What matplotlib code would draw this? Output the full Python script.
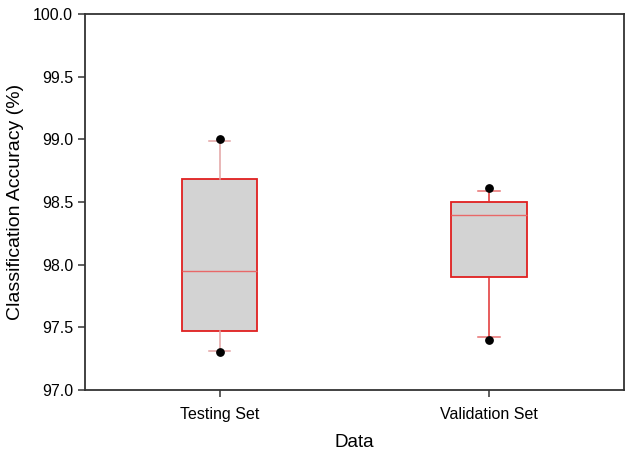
import matplotlib.pyplot as plt

plt.rcParams['font.family'] = ['Liberation Sans', 'DejaVu Sans']

# Box statistics
labels = ['Testing Set', 'Validation Set']
q1 = [97.47, 97.90]
median = [97.95, 98.40]
q3 = [98.68, 98.50]
whisker_low = [97.31, 97.42]
whisker_high = [98.99, 98.59]
# extreme points drawn as dots
point_low = [97.30, 97.40]
point_high = [99.00, 98.61]

whisker_colors = ['#e3a3a3', '#e03030']
cap_colors = ['#e3a3a3', '#e87070']

fig = plt.figure(figsize=(6.3, 4.55), dpi=100)
ax = fig.add_axes([0.135, 0.143, 0.855, 0.826])

positions = [1, 2]
for i, pos in enumerate(positions):
    stats = [{
        'label': labels[i],
        'q1': q1[i],
        'med': median[i],
        'q3': q3[i],
        'whislo': whisker_low[i],
        'whishi': whisker_high[i],
        'fliers': [],
    }]
    ax.bxp(stats, positions=[pos], widths=0.28, patch_artist=True,
           showfliers=False,
           boxprops=dict(facecolor='#d3d3d3', edgecolor='#e02020', linewidth=1.3),
           medianprops=dict(color='#e86868', linewidth=1.0),
           whiskerprops=dict(color=whisker_colors[i], linewidth=1.1),
           capprops=dict(color=cap_colors[i], linewidth=1.1),
           capwidths=0.08)

ax.scatter(positions, point_low, s=28, color='black', zorder=5)
ax.scatter(positions, point_high, s=28, color='black', zorder=5)

ax.set_xlim(0.5, 2.5)
ax.set_ylim(97.0, 100.0)
ax.set_yticks([97.0, 97.5, 98.0, 98.5, 99.0, 99.5, 100.0])
ax.set_yticklabels(['97.0', '97.5', '98.0', '98.5', '99.0', '99.5', '100.0'])
ax.set_xticks(positions)
ax.set_xticklabels(labels)

for s in ax.spines.values():
    s.set_color('#333333')
    s.set_linewidth(1.3)

ax.tick_params(axis='both', direction='out', length=5, width=1.1,
               colors='#333333', labelsize=11.5, labelcolor='black')
ax.tick_params(axis='x', pad=7)

ax.set_xlabel('Data', fontsize=13.5, labelpad=9)
ax.set_ylabel('Classification Accuracy (%)', fontsize=14, labelpad=7)

fig.savefig('out.png', dpi=100)
